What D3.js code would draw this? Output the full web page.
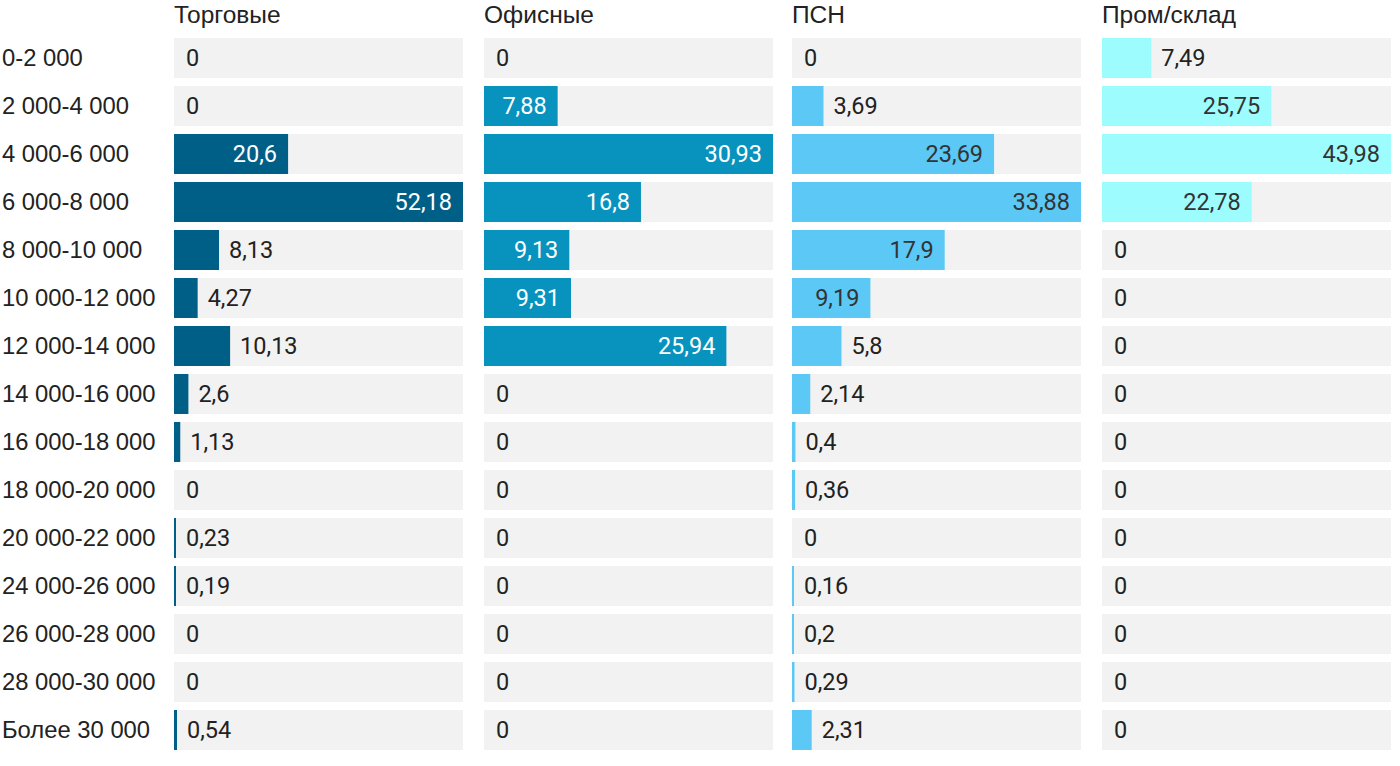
<!DOCTYPE html>
<html><head><meta charset="utf-8">
<script src="https://cdn.jsdelivr.net/npm/d3@7"></script>
<style>body{margin:0;background:#fff}svg{display:block}</style>
</head><body><svg id="c" width="1400" height="766"></svg>
<script>
const categories = ["0-2 000","2 000-4 000","4 000-6 000","6 000-8 000","8 000-10 000","10 000-12 000","12 000-14 000","14 000-16 000","16 000-18 000","18 000-20 000","20 000-22 000","24 000-26 000","26 000-28 000","28 000-30 000","Более 30 000"];
const seriesNames = ["Торговые","Офисные","ПСН","Пром/склад"];
const torgovye = [0,0,20.6,52.18,8.13,4.27,10.13,2.6,1.13,0,0.23,0.19,0,0,0.54];
const ofisnye = [0,7.88,30.93,16.8,9.13,9.31,25.94,0,0,0,0,0,0,0,0];
const psn = [0,3.69,23.69,33.88,17.9,9.19,5.8,2.14,0.4,0.36,0,0.16,0.2,0.29,2.31];
const promsklad = [7.49,25.75,43.98,22.78,0,0,0,0,0,0,0,0,0,0,0];
const seriesValues = [torgovye, ofisnye, psn, promsklad];
const colors = ["#005f87","#0892be","#5bc8f5","#9dfdfe"];
const insideText = ["#ffffff","#ffffff","#333333","#333333"];

const svg = d3.select("#c");
const panelX = [174,484,792,1102];
const panelW = 289;
const y = d3.scaleBand().domain(categories).range([38, 38+48*15-8]).paddingInner(8/48).paddingOuter(0);
const fmt = v => String(v).replace(".", ",");
const labelFont = "'Liberation Sans', Arial, sans-serif";
const valFont = "Roboto, sans-serif";

svg.append("g").selectAll("text").data(categories).join("text")
  .attr("x", 2).attr("y", d => y(d) + y.bandwidth()/2).attr("dy","0.35em")
  .attr("font-family", labelFont).attr("font-size", 23.8).attr("fill","#222").text(d => d);

seriesValues.forEach((vals, i) => {
  const x = d3.scaleLinear().domain([0, d3.max(vals)]).range([panelX[i], panelX[i] + panelW]);
  const g = svg.append("g");
  g.append("text").attr("x", panelX[i]).attr("y", 23).attr("font-family", labelFont)
    .attr("font-size", 24.5).attr("fill","#222").text(seriesNames[i]);
  g.selectAll("rect.bg").data(categories).join("rect").attr("class","bg")
    .attr("x", panelX[i]).attr("width", panelW).attr("y", d => y(d)).attr("height", y.bandwidth())
    .attr("fill","#f2f2f2");
  const data = categories.map((c, j) => ({c, v: vals[j]}));
  g.selectAll("rect.bar").data(data.filter(d => d.v > 0)).join("rect").attr("class","bar")
    .attr("x", panelX[i]).attr("width", d => Math.max(2, x(d.v) - x(0)))
    .attr("y", d => y(d.c)).attr("height", y.bandwidth()).attr("fill", colors[i]);
  g.selectAll("text.val").data(data).join("text").attr("class","val")
    .attr("font-family", valFont).attr("font-size", 23.5)
    .attr("y", d => y(d.c) + y.bandwidth()/2).attr("dy","0.35em")
    .text(d => fmt(d.v))
    .each(function(d){
      const t = d3.select(this);
      const w = this.getComputedTextLength();
      const bw = d.v > 0 ? Math.max(2, x(d.v) - x(0)) : 0;
      if (bw >= w + 20) {
        t.attr("x", panelX[i] + bw - 11).attr("text-anchor","end").attr("fill", insideText[i]);
      } else {
        t.attr("x", panelX[i] + Math.max(bw, 2) + 10).attr("text-anchor","start").attr("fill","#222");
      }
    });
});
</script></body></html>
